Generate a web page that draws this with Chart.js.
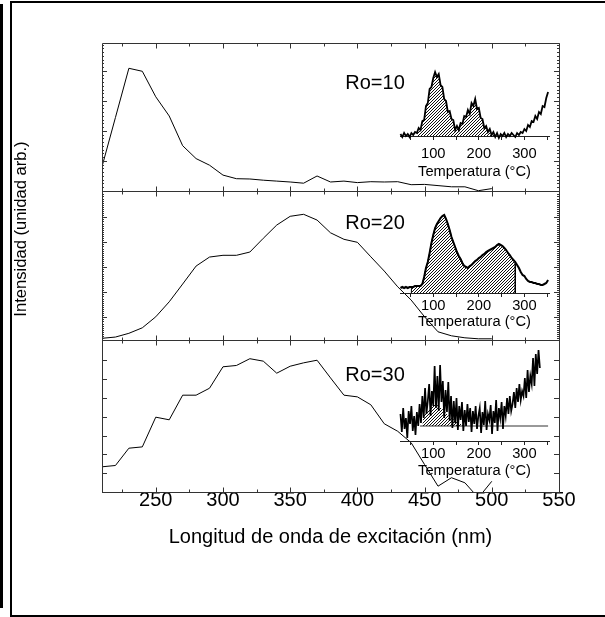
<!DOCTYPE html>
<html>
<head>
<meta charset="utf-8">
<script src="https://cdn.jsdelivr.net/npm/chart.js@4.4.0/dist/chart.umd.min.js"></script>
<style>
  html, body { margin: 0; padding: 0; background: #fff; }
  #page { position: relative; width: 605px; height: 617px; overflow: hidden; }
  .bar { position: absolute; left: 0; top: 4px; width: 3px; height: 604px; background: #000; }
  .frame { position: absolute; left: 10px; top: 1px; width: 620px; height: 612px; border: 2px solid #000; }
  canvas { position: absolute; }
</style>
</head>
<body>
<div id="page">
  <div class="bar"></div>
  <div class="frame"></div>
  <canvas id="main" width="605" height="617" style="left:0;top:0"></canvas>
  <canvas id="inset10"></canvas>
  <canvas id="inset20"></canvas>
  <canvas id="inset30"></canvas>
</div>
<script>
'use strict';

////////////////////////////
/// data - excitation spectra
const wavelengths = [210, 220, 230, 240, 250, 260, 270, 280, 290, 300, 310, 320, 330, 340, 350,
  360, 370, 380, 390, 400, 410, 420, 430, 440, 450, 460, 470, 480, 490, 500];
const ro10 = [0.81, 2.45, 4.09, 3.99, 3.14, 2.5, 1.51, 1.08, 0.86, 0.53, 0.41, 0.4, 0.36, 0.33, 0.3,
  0.26, 0.5, 0.3, 0.33, 0.28, 0.31, 0.3, 0.31, 0.21, 0.22, 0.18, 0.14, 0.14, 0.01, 0.08];
const ro20 = [0.16, 0.21, 0.36, 0.58, 1.02, 1.62, 2.33, 3.05, 3.41, 3.48, 3.48, 3.61, 4.16, 4.69, 5.04,
  5.12, 4.89, 4.38, 4.12, 4.0, 3.42, 2.85, 2.22, 1.69, 1.02, 0.42, 0.26, 0.18, 0.14, 0.14];
const ro30 = [1.34, 1.41, 2.33, 2.4, 3.98, 3.84, 5.15, 5.15, 5.52, 6.66, 6.73, 7.09, 6.96, 6.32, 6.69,
  6.87, 7.01, 6.07, 5.15, 5.06, 4.64, 3.63, 3.23, 2.62, 1.46, 0.31, 0.76, 0.49, -0.31, 0.57];
const panelNames = ['Ro=10', 'Ro=20', 'Ro=30'];
const xMajor = [250, 300, 350, 400, 450, 500, 550];
const xMinor = [225, 275, 325, 375, 425, 475, 525];

/// data - glow curves (insets)
const tempsA = [28, 32, 36, 40, 44, 48, 52, 56, 60, 64, 68, 72, 76, 80, 84, 88, 92, 96, 100, 104,
  108, 112, 116, 120, 124, 128, 132, 136, 140, 144, 148, 152, 156, 160, 164, 168, 172, 176, 180, 184,
  188, 192, 196, 200, 204, 208, 212, 216, 220, 224, 228, 232, 236, 240, 244, 248, 252, 256, 260, 264,
  268, 272, 276, 280, 284, 288, 292, 296, 300, 304, 308, 312, 316, 320, 324, 328, 332, 336, 340, 344,
  348, 352];
const glow10 = [2, -1, 3, 0, 2, -1, 3, 1, 4, 3, 8, 6, 15, 16, 30, 33, 47, 49, 58, 64,
  59, 62, 51, 49, 37, 35, 24, 25, 17, 16, 6, 10, 6, 13, 12, 20, 19, 26, 22, 33,
  30, 37, 27, 28, 18, 17, 8, 10, 4, 7, 1, 4, -1, 3, -2, 2, 0, 3, -1, 2,
  0, 3, 1, -1, 3, 1, 4, 3, 7, 5, 11, 9, 15, 14, 20, 17, 24, 22, 30, 29,
  38, 44];
const glow20 = [5, 6, 5, 6, 5, 6, 6, 6, 7, 7, 7, 7, 9, 16, 25, 31, 40, 50, 58, 65,
  69, 72, 75, 77, 78, 74, 69, 63, 56, 51, 46, 41, 37, 34, 30, 27, 26, 25, 27, 28,
  30, 32, 33, 35, 36, 38, 39, 41, 42, 43, 44, 45, 46, 48, 49, 48, 47, 45, 43, 40,
  38, 35, 33, 31, 28, 25, 21, 18, 17, 14, 12, 11, 11, 10, 10, 9, 9, 8, 8, 9,
  10, 13];
const tempsB = [28, 31, 34, 37, 40, 43, 46, 49, 52, 55, 58, 61, 64, 67, 70, 73, 76, 79, 82, 85,
  88, 91, 94, 97, 100, 103, 106, 109, 112, 115, 118, 121, 124, 127, 130, 133, 136, 139, 142, 145,
  148, 151, 154, 157, 160, 163, 166, 169, 172, 175, 178, 181, 184, 187, 190, 193, 196, 199, 202, 205,
  208, 211, 214, 217, 220, 223, 226, 229, 232, 235, 238, 241, 244, 247, 250, 253, 256, 259, 262, 265,
  268, 271, 274, 277, 280, 283, 286, 289, 292, 295, 298, 301, 304, 307, 310, 313, 316, 319, 322, 325,
  328, 331, 334];
const glow30 = [12, -6, 18, -3, 8, -12, 15, 2, 20, -5, 10, -9, 14, 0, 22, 3, 30, 8, 38, 12,
  25, 42, 10, 35, 20, 60, 18, 50, 15, 61, 24, 45, 8, 36, 14, 44, 5, 30, -2, 25,
  3, 28, -4, 20, 6, 24, -5, 16, 0, 22, 4, 18, -6, 15, 2, 20, -3, 10, 18, -7,
  14, 1, 25, -4, 12, 6, 21, -8, 15, 3, 26, -5, 18, 8, 24, -3, 20, 10, 28, 12,
  30, 15, 22, 34, 18, 38, 24, 42, 26, 35, 30, 48, 28, 56, 34, 50, 42, 68, 40, 72,
  52, 76, 58];
const hatch10Range = [64, 236];
const hatch20Range = [52, 280];
const hatch30Temps = [76, 78, 84, 92, 100, 106, 112, 120, 130, 140, 150, 160, 168];
const hatch30Vals = [0, 10, 14, 17, 21, 22, 20, 17, 12, 8, 5, 2, 0];
const baseline30Range = [71, 352];
const insetTicks = [50, 100, 150, 200, 250, 300, 350];
const insetLabels = [100, 200, 300];

/// styles
const FONT = 'Liberation Sans, Arial, sans-serif';
const AXIS = '#333';
Chart.defaults.font.family = FONT;
Chart.defaults.color = '#000';

const toPoints = (xs, ys) => xs.map((v, i) => ({ x: v, y: ys[i] }));

//////////////////////////////////////////////////////
/// main chart ticks / frame
const frameTicks = {
  id: 'frameTicks',
  afterDraw(chart) {
    const { ctx, chartArea: a, scales } = chart;
    const x = scales.x;
    const panels = ['yTop', 'yMid', 'yBot'].map((id) => scales[id]);
    const minorDiv = [8, 12, 0];
    const roOffsets = [46, 38, 41];
    ctx.save();
    ctx.strokeStyle = AXIS;
    ctx.lineWidth = 1;
    ctx.beginPath();
    ctx.rect(Math.round(a.left) + 0.5, Math.round(a.top) + 0.5, Math.round(a.width), Math.round(a.height));
    panels.forEach((s, k) => {
      const top = Math.round(s.top) + 0.5;
      const bot = Math.round(s.bottom) + 0.5;
      if (k < panels.length - 1) {
        ctx.moveTo(a.left, bot);
        ctx.lineTo(a.right, bot);
      }
      xMajor.forEach((v) => {
        const px = Math.round(x.getPixelForValue(v)) + 0.5;
        ctx.moveTo(px, top); ctx.lineTo(px, top + 5);
        ctx.moveTo(px, bot); ctx.lineTo(px, bot - 5);
      });
      xMinor.forEach((v) => {
        const px = Math.round(x.getPixelForValue(v)) + 0.5;
        ctx.moveTo(px, top); ctx.lineTo(px, top + 3);
        ctx.moveTo(px, bot); ctx.lineTo(px, bot - 3);
      });
      const majors = s.ticks.map((t) => t.value).filter((v) => Number.isInteger(v));
      majors.forEach((v) => {
        const py = Math.round(s.getPixelForValue(v)) + 0.5;
        ctx.moveTo(a.left, py); ctx.lineTo(a.left + 5, py);
        ctx.moveTo(a.right, py); ctx.lineTo(a.right - 5, py);
      });
      if (minorDiv[k]) {
        for (let v = Math.floor(s.min); v < s.max; v++) {
          for (let j = 1; j < minorDiv[k]; j++) {
            const val = v + j / minorDiv[k];
            if (val < s.min || val > s.max) continue;
            const py = Math.round(s.getPixelForValue(val)) + 0.5;
            ctx.moveTo(a.left, py); ctx.lineTo(a.left + 2, py);
            ctx.moveTo(a.right, py); ctx.lineTo(a.right - 2, py);
          }
        }
      }
    });
    ctx.stroke();

    // panel labels
    ctx.fillStyle = '#000';
    ctx.font = '20px ' + FONT;
    ctx.textAlign = 'left';
    ctx.textBaseline = 'alphabetic';
    panels.forEach((s, k) => {
      ctx.fillText(panelNames[k], x.getPixelForValue(391), s.top + roOffsets[k]);
    });

    // y title
    ctx.font = '16.6px ' + FONT;
    ctx.textAlign = 'center';
    ctx.textBaseline = 'middle';
    ctx.translate(21, 229);
    ctx.rotate(-Math.PI / 2);
    ctx.fillText('Intensidad (unidad arb.)', 0, 0);
    ctx.restore();
  },
};

const panelAxis = (min, max, weight) => ({
  type: 'linear',
  position: 'left',
  stack: 'panels',
  stackWeight: weight,
  min,
  max,
  ticks: { display: false, stepSize: 1 },
  grid: { display: false, drawTicks: false },
  border: { display: false },
});

const lineStyle = { borderColor: '#000', borderWidth: 1, pointRadius: 0, tension: 0, fill: false };

new Chart(document.getElementById('main'), {
  type: 'line',
  data: {
    datasets: [
      { ...lineStyle, data: toPoints(wavelengths, ro10), yAxisID: 'yTop' },
      { ...lineStyle, data: toPoints(wavelengths, ro20), yAxisID: 'yMid' },
      { ...lineStyle, data: toPoints(wavelengths, ro30), yAxisID: 'yBot' },
    ],
  },
  options: {
    responsive: false,
    animation: false,
    layout: { padding: { left: 102, right: 46, top: 43, bottom: 0 }, autoPadding: false },
    plugins: { legend: { display: false }, tooltip: { enabled: false } },
    scales: {
      x: {
        type: 'linear',
        position: 'bottom',
        min: 210,
        max: 550,
        afterBuildTicks: (s) => { s.ticks = xMajor.map((v) => ({ value: v })); },
        afterFit: (s) => { s.height = 125; },
        ticks: { font: { size: 20 }, color: '#000', padding: -3.5, maxRotation: 0, autoSkip: false },
        grid: { display: false, drawTicks: false },
        border: { display: false },
        title: {
          display: true,
          text: 'Longitud de onda de excitación (nm)',
          font: { size: 20 },
          color: '#000',
          padding: { top: 0, bottom: 68 },
        },
      },
      yBot: panelAxis(0, 8.085, 152),
      yMid: panelAxis(0.092, 6.052, 149),
      yTop: panelAxis(0, 4.933, 148),
    },
  },
  plugins: [frameTicks],
});

//////////////////////////////////////////////////////
/// insets
const hatchPattern = function () {
  const c = document.createElement('canvas');
  c.width = 3;
  c.height = 3;
  const g = c.getContext('2d');
  g.strokeStyle = '#111';
  g.lineWidth = 1;
  g.beginPath();
  g.moveTo(0, 3); g.lineTo(3, 0);
  g.moveTo(-1, 1); g.lineTo(1, -1);
  g.moveTo(2, 4); g.lineTo(4, 2);
  g.stroke();
  return g.createPattern(c, 'repeat');
};

const insetBox = { left: 390, width: 172, padLeft: 10, padRight: 13, padTop: 4, axisHeight: 50 };

const rangePoints = function (temps, vals, range) {
  const inside = toPoints(temps, vals).filter((p) => p.x >= range[0] && p.x <= range[1]);
  return [{ x: range[0], y: 0 }, ...inside, { x: range[1], y: 0 }];
};

function buildInset(id, cfg) {
  const c = document.getElementById(id);
  const span = cfg.yMax - cfg.yMin;
  c.width = insetBox.width;
  c.height = insetBox.padTop + span + insetBox.axisHeight;
  c.style.left = insetBox.left + 'px';
  c.style.top = cfg.axisY - span - insetBox.padTop + 'px';

  const datasets = [
    { data: cfg.line, borderColor: '#000', borderWidth: cfg.lineWidth, pointRadius: 0, tension: 0, fill: false, clip: false },
    { data: cfg.hatch, borderColor: '#000', borderWidth: cfg.hatchEdge, pointRadius: 0, tension: 0, fill: 'origin', backgroundColor: hatchPattern() },
  ];
  if (cfg.baseline) {
    datasets.push({ data: cfg.baseline, borderColor: '#333', borderWidth: 1, pointRadius: 0, fill: false });
  }

  return new Chart(c, {
    type: 'line',
    data: { datasets },
    options: {
      responsive: false,
      animation: false,
      layout: {
        padding: { left: insetBox.padLeft, right: insetBox.padRight, top: insetBox.padTop, bottom: 0 },
        autoPadding: false,
      },
      plugins: { legend: { display: false }, tooltip: { enabled: false } },
      scales: {
        x: {
          type: 'linear',
          min: 27,
          max: 354,
          afterBuildTicks: (s) => { s.ticks = insetTicks.map((v) => ({ value: v })); },
          afterFit: (s) => { s.height = insetBox.axisHeight; },
          ticks: {
            callback: (v) => (insetLabels.includes(v) ? String(v) : ''),
            font: { size: 14.7 },
            color: '#000',
            padding: cfg.labelPad,
            maxRotation: 0,
            autoSkip: false,
          },
          grid: { display: true, drawOnChartArea: false, drawTicks: true, tickLength: 4, color: '#222' },
          border: { display: true, color: '#222', width: 1 },
          title: {
            display: true,
            text: 'Temperatura (°C)',
            font: { size: 14.7 },
            color: '#000',
            padding: { top: 0, bottom: cfg.titlePad },
          },
        },
        y: { display: false, min: cfg.yMin, max: cfg.yMax },
      },
    },
  });
}

buildInset('inset10', {
  axisY: 136, yMin: 0, yMax: 67, labelPad: 5.2, titlePad: 5.7, lineWidth: 1.8, hatchEdge: 0,
  line: toPoints(tempsA, glow10),
  hatch: rangePoints(tempsA, glow10, hatch10Range),
});
buildInset('inset20', {
  axisY: 293, yMin: 0, yMax: 80, labelPad: 0.2, titlePad: 12.2, lineWidth: 2, hatchEdge: 1,
  line: toPoints(tempsA, glow20),
  hatch: rangePoints(tempsA, glow20, hatch20Range),
});
buildInset('inset30', {
  axisY: 441, yMin: -15, yMax: 77, labelPad: 0.2, titlePad: 11.2, lineWidth: 1.7, hatchEdge: 0,
  line: toPoints(tempsB, glow30),
  hatch: toPoints(hatch30Temps, hatch30Vals),
  baseline: baseline30Range.map((t) => ({ x: t, y: 0 })),
});
</script>
</body>
</html>
